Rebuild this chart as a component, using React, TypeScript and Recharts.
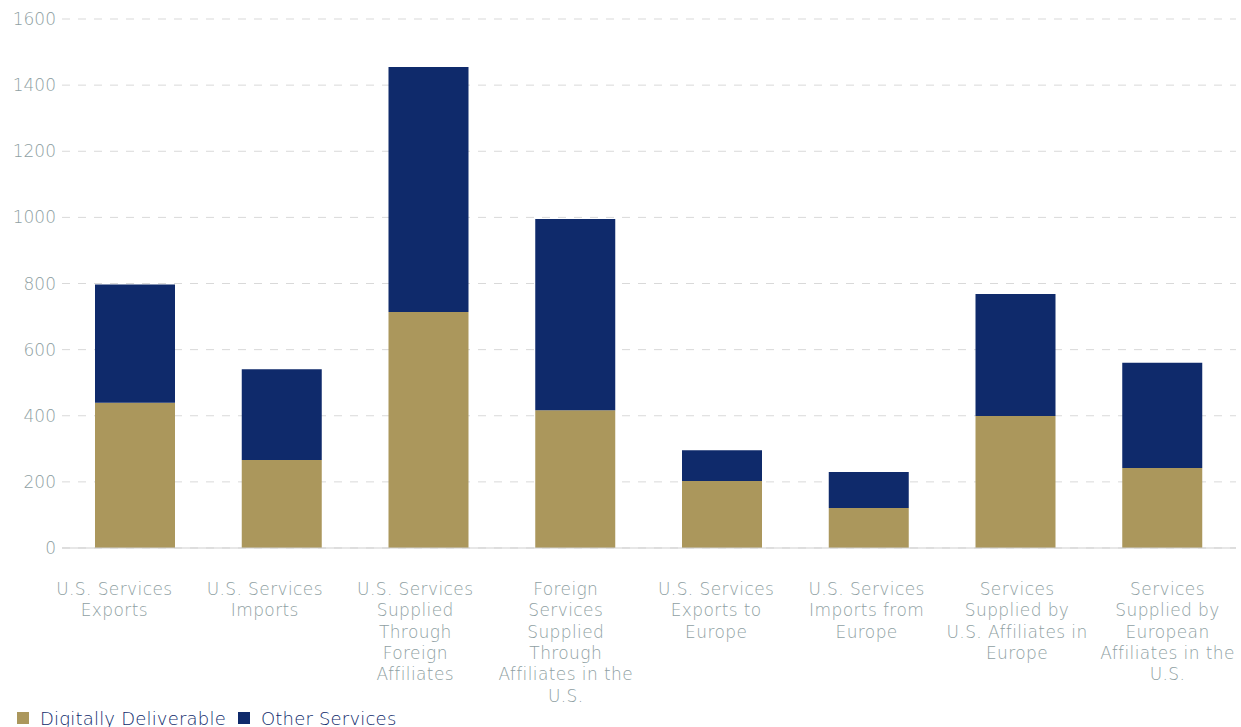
import { BarChart, Bar, XAxis, YAxis, CartesianGrid, Legend } from 'recharts';

const categories = [
  'U.S. Services\nExports',
  'U.S. Services\nImports',
  'U.S. Services\nSupplied\nThrough\nForeign\nAffiliates',
  'Foreign\nServices\nSupplied\nThrough\nAffiliates in the\nU.S.',
  'U.S. Services\nExports to\nEurope',
  'U.S. Services\nImports from\nEurope',
  'Services\nSupplied by\nU.S. Affiliates in\nEurope',
  'Services\nSupplied by\nEuropean\nAffiliates in the\nU.S.',
];

const digitallyDeliverable = [439, 266, 714, 417, 203, 121, 399, 242];
const otherServices = [358, 275, 741, 578, 93, 109, 369, 318];

const yTicks = [0, 200, 400, 600, 800, 1000, 1200, 1400, 1600];

const GOLD = '#ab975c';
const NAVY = '#0f2a6b';
const GREY = '#8f9fa3';
const FONT = '"DejaVu Sans", "Open Sans", sans-serif';

const data = categories.map((name, i) => ({
  name,
  digital: digitallyDeliverable[i],
  other: otherServices[i],
}));

function CategoryTick({ x, y, payload, index }: { x?: number; y?: number; payload?: { value: string }; index?: number }) {
  const lines = (payload?.value ?? '').split('\n');
  // labels in the original sit on a slightly wider spacing than the bars
  const cx = (x ?? 0) - 21 + 3.7 * (index ?? 0);
  return (
    <text x={cx} y={y} textAnchor="middle" fill={GREY} fontSize={17} letterSpacing={0.4} fontFamily={FONT} fontWeight={200}>
      {lines.map((line, i) => (
        <tspan key={i} x={cx} dy={i === 0 ? 47 : 21.3}>
          {line}
        </tspan>
      ))}
    </text>
  );
}

function LegendContent() {
  const items = [
    { label: 'Digitally Deliverable', color: GOLD },
    { label: 'Other Services', color: NAVY },
  ];
  return (
    <div style={{ display: 'flex', alignItems: 'center', height: 24, boxSizing: 'border-box', paddingLeft: 17, paddingTop: 6, fontFamily: FONT, fontSize: 18, letterSpacing: 0.2, fontWeight: 300, color: NAVY }}>
      {items.map((it) => (
        <span key={it.label} style={{ display: 'flex', alignItems: 'center', marginRight: 12 }}>
          <span style={{ width: 12, height: 12, background: it.color, display: 'inline-block', marginRight: 11 }} />
          {it.label}
        </span>
      ))}
    </div>
  );
}

export default function App() {
  return (
    <div style={{ position: 'absolute', left: 0, top: 0, background: '#fff' }}>
      <BarChart
        width={1241}
        height={727}
        data={data}
        margin={{ top: 19, right: 5, left: 0, bottom: 0 }}
        barSize={80}
      >
        <CartesianGrid vertical={false} stroke="#d9d9d9" strokeDasharray="8 8" />
        <XAxis
          dataKey="name"
          interval={0}
          height={155}
          tickLine={false}
          tickSize={0}
          tickMargin={0}
          stroke="#cfcfcf"
          tick={<CategoryTick />}
        />
        <YAxis
          width={62}
          domain={[0, 1600]}
          ticks={yTicks}
          axisLine={false}
          tickLine={false}
          tickSize={6}
          tickMargin={0}
          tick={{ fill: GREY, fontSize: 17, fontFamily: FONT, fontWeight: 200 }}
        />
        <Legend verticalAlign="bottom" align="left" content={<LegendContent />} />
        <Bar dataKey="digital" name="Digitally Deliverable" stackId="a" fill={GOLD} isAnimationActive={false} />
        <Bar dataKey="other" name="Other Services" stackId="a" fill={NAVY} isAnimationActive={false} />
      </BarChart>
    </div>
  );
}
